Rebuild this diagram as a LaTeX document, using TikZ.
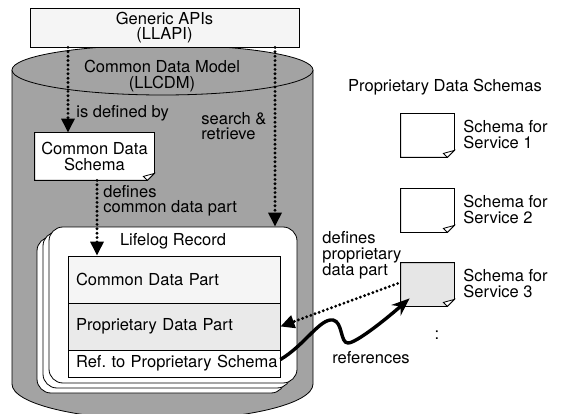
\documentclass[tikz,border=0pt]{standalone}
\usepackage{fontspec}
\setmainfont{TeX Gyre Heros}
\usetikzlibrary{arrows.meta}

\definecolor{cylgray}{RGB}{163,163,163}
\definecolor{apigray}{RGB}{245,245,245}
\definecolor{rowgray}{RGB}{234,234,234}
\definecolor{notegray}{RGB}{230,230,230}

\tikzset{
  every node/.style={font=\fontsize{16.5pt}{15.5pt}\selectfont, inner sep=0pt},
  recbox/.style={draw, fill=white, rounded corners=14pt, minimum width=248pt, minimum height=156pt},
  rowbox/.style={draw, minimum width=212pt, text width=196pt, inner xsep=8pt, align=left},
  notebox/.style={fill=white, minimum width=53pt, minimum height=43pt},
  dotarrow/.style={line width=3.2pt, line cap=round, dash pattern=on 0pt off 4.4pt,
    -{Triangle[length=14pt,width=13pt]}},
  refarrow/.style={line width=3.4pt, -{Stealth[length=18pt,width=14pt]}},
}

% outline of a sheet with a folded corner
\newcommand\dogear[2]{%
  \fill[#2] ([yshift=7pt]#1.south east) -- (#1.south east) -- ([xshift=-7pt]#1.south east) -- cycle;
  \draw (#1.north west) -- (#1.north east) -- ([yshift=7pt]#1.south east)
    -- ([xshift=-7pt]#1.south east) -- (#1.south west) -- cycle;
  \draw[fill=white] ([yshift=7pt]#1.south east) -- ([xshift=-7pt]#1.south east)
    -- ([xshift=-11pt,yshift=4pt]#1.south east) -- cycle;
}

\begin{document}
\begin{tikzpicture}[x=1pt, y=-1pt, line width=0.8pt]
  \useasboundingbox (0,0) rectangle (562,414);

  % data model cylinder
  \draw[fill=cylgray] (12,70) -- (12,384)
    arc[start angle=180, end angle=360, x radius=150.5pt, y radius=36pt] -- (313,70);
  \draw[fill=cylgray] (162.5,70) ellipse [x radius=150.5pt, y radius=25pt];

  \node[draw, fill=apigray, minimum width=269pt, minimum height=39pt, align=center] (api) at (164.5,27.5) {Generic APIs\\(LLAPI)};
  \node[align=center] (cdm) at (162,76) {Common Data Model\\(LLCDM)};

  \node[notebox, minimum width=119pt, minimum height=47pt, align=center] (cds) at (94.5,156.5) {Common Data\\Schema};
  \dogear{cds}{cylgray}

  % record stack
  \node[recbox] (rec3) at (161,315) {};
  \node[recbox] (rec2) at (167,310) {};
  \node[recbox] (rec) at (173,305) {};
  \node (lrec) at (173,241) {Lifelog Record};

  \node[rowbox, fill=apigray, minimum height=47pt] (cdp) at (174,279.5) {Common Data Part};
  \node[rowbox, fill=rowgray, minimum height=47pt] (pdp) at (174,326.5) {Proprietary Data Part};
  \node[rowbox, fill=white, minimum height=27pt] (ref) at (174,363.5) {\mbox{Ref.\ to Proprietary Schema}};

  % proprietary schemas
  \node (pds) at (445,87) {Proprietary Data Schemas};
  \node[notebox] (s1) at (427.5,135.5) {};
  \dogear{s1}{white}
  \node[notebox] (s2) at (427.5,210.5) {};
  \dogear{s2}{white}
  \node[notebox, fill=notegray] (s3) at (427.5,284.5) {};
  \dogear{s3}{white}
  \node[anchor=west, align=left] (s1lbl) at (463,134.5) {Schema for\\Service 1};
  \node[anchor=west, align=left] (s2lbl) at (463,209.5) {Schema for\\Service 2};
  \node[anchor=west, align=left] (s3lbl) at (463,283.5) {Schema for\\Service 3};
  \node (more) at (437,335) {:};

  % connectors
  \draw[dotarrow] (api.south -| 68,0) -- (cds.north -| 68,0);
  \draw[dotarrow] (api.south -| 275,0) -- (rec.north -| 275,0);
  \draw[dotarrow] (cds.south -| 97,0) -- (cdp.north -| 97,0);
  \draw[dotarrow] ([xshift=-3pt,yshift=1pt]s3.west) -- (pdp.east);
  \draw[refarrow] ([yshift=4pt]ref.east) .. controls (305,345) and (320,318) .. (333,320)
    .. controls (343,322) and (340,343) .. (348,343)
    .. controls (356,343) and (385,320) .. ([xshift=9pt,yshift=8pt]s3.south west);

  \node[anchor=west] (defby) at (76,113) {is defined by};
  \node[anchor=west, align=left] (search) at (201,126) {search \&\\retrieve};
  \node[anchor=west, align=left] (defcdp) at (103,201) {defines\\common data part};
  \node[anchor=west, align=left] (defpdp) at (322,255.5) {defines\\proprietary\\data part};
  \node (refs) at (371,358) {references};

\end{tikzpicture}
\end{document}
